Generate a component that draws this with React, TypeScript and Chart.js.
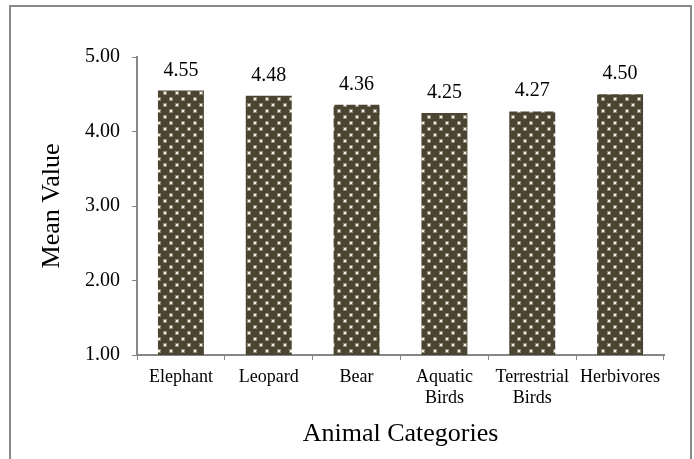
import React, { useEffect, useRef } from "react";
import { Chart, registerables } from "chart.js";

Chart.register(...registerables);

const categories: (string | string[])[] = [
  "Elephant",
  "Leopard",
  "Bear",
  ["Aquatic", "Birds"],
  ["Terrestrial", "Birds"],
  "Herbivores",
];
const meanValues: number[] = [4.55, 4.48, 4.36, 4.25, 4.27, 4.5];
const yTickValues: number[] = [1, 2, 3, 4, 5];
const xTitle = "Animal Categories";
const yTitle = "Mean Value";

const FONT = "'Liberation Serif', 'Times New Roman', Times, serif";
const AXIS_COLOR = "#868686";

function makePattern(): CanvasPattern | string {
  const c = document.createElement("canvas");
  c.width = 12;
  c.height = 12;
  const g = c.getContext("2d");
  if (!g) return "#4a4431";
  g.fillStyle = "#4a4431";
  g.fillRect(0, 0, 12, 12);
  const dot = (x: number, y: number) => {
    g.fillStyle = "#8f8a78";
    g.fillRect(x - 1, y - 1, 4, 4);
    g.fillStyle = "#f2f0ea";
    g.fillRect(x, y, 2, 2);
  };
  dot(2, 2);
  dot(8, 8);
  const p = g.createPattern(c, "repeat");
  return p || "#4a4431";
}

const valueLabels = {
  id: "valueLabels",
  afterDatasetsDraw(chart: any) {
    const ctx = chart.ctx;
    const meta = chart.getDatasetMeta(0);
    ctx.save();
    ctx.font = `20px ${FONT}`;
    ctx.fillStyle = "#000";
    ctx.textAlign = "center";
    ctx.textBaseline = "alphabetic";
    meta.data.forEach((bar: any, i: number) => {
      ctx.fillText(meanValues[i].toFixed(2), bar.x, bar.y - 15);
    });
    ctx.restore();
  },
};

export default function App() {
  const ref = useRef<HTMLCanvasElement>(null);

  useEffect(() => {
    if (!ref.current) return;
    const chart = new Chart(ref.current, {
      type: "bar",
      data: {
        labels: categories,
        datasets: [
          {
            data: meanValues,
            backgroundColor: makePattern() as any,
            borderWidth: 0,
            categoryPercentage: 1,
            barPercentage: 0.523,
          },
        ],
      },
      options: {
        responsive: false,
        animation: false,
        devicePixelRatio: 1,
        layout: { padding: { top: 57, right: 30, left: 0, bottom: 0 } },
        plugins: {
          legend: { display: false },
          tooltip: { enabled: false },
        },
        scales: {
          x: {
            type: "category",
            grid: {
              display: true,
              drawOnChartArea: false,
              drawTicks: true,
              tickLength: 5,
              color: AXIS_COLOR,
              offset: true,
            },
            border: { display: true, color: AXIS_COLOR, width: 2 },
            ticks: {
              color: "#000",
              font: { family: FONT, size: 18, lineHeight: 1.15 },
              padding: 7,
              maxRotation: 0,
              autoSkip: false,
            },
            title: {
              display: true,
              text: xTitle,
              color: "#000",
              font: { family: FONT, size: 26 },
              padding: { top: 0, bottom: 9 },
            },
            afterFit(scale: any) {
              scale.height = 459 - 355;
            },
          },
          y: {
            type: "linear",
            min: 1,
            max: 5,
            afterBuildTicks(scale: any) {
              scale.ticks = yTickValues.map((v) => ({ value: v }));
            },
            grid: {
              display: true,
              drawOnChartArea: false,
              drawTicks: true,
              tickLength: 5,
              color: AXIS_COLOR,
            },
            border: { display: true, color: AXIS_COLOR, width: 2 },
            ticks: {
              color: "#000",
              font: { family: FONT, size: 20 },
              padding: 12,
              callback: (v: any) => Number(v).toFixed(2),
            },
            title: {
              display: true,
              text: yTitle,
              color: "#000",
              font: { family: FONT, size: 26 },
              padding: { top: 37, bottom: 0 },
            },
            afterFit(scale: any) {
              scale.width = 137;
            },
          },
        },
      },
      plugins: [valueLabels],
    });
    return () => chart.destroy();
  }, []);

  return (
    <div>
      <canvas
        ref={ref}
        width={694}
        height={459}
        style={{ position: "absolute", left: 0, top: 0, width: 694, height: 459 }}
      />
      <div
        style={{
          position: "absolute",
          left: 9,
          top: 5,
          width: 679,
          height: 470,
          border: "2px solid #8a8a8a",
          pointerEvents: "none",
        }}
      />
    </div>
  );
}
